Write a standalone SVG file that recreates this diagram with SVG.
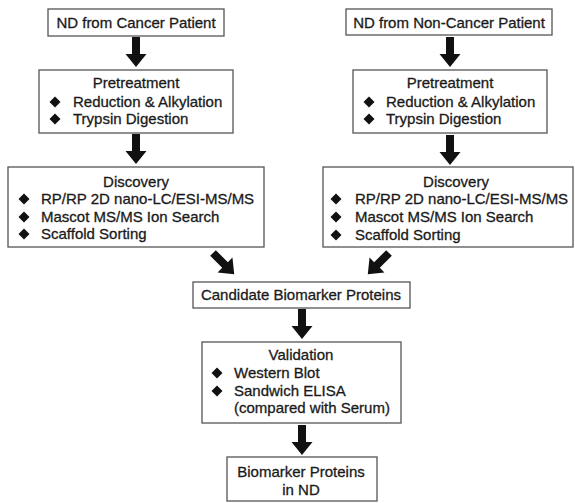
<svg xmlns="http://www.w3.org/2000/svg" width="575" height="503" viewBox="0 0 575 503">
<style>
.box{fill:#fff;stroke:#555;stroke-width:1.3}
text{font-family:"Liberation Sans",Arial,sans-serif;font-size:15px;fill:#1a1a1a;stroke:#1a1a1a;stroke-width:0.3}
.c{text-anchor:middle}
.arr{fill:#111}
.dia{fill:#111}
</style>
<defs>
<path id="arrow" d="M-4,0 H4 V17 H10.5 L0,30 L-10.5,17 H-4 Z"/>
<path id="d" d="M0,-5.5 L5.5,0 L0,5.5 L-5.5,0 Z"/>
</defs>
<rect width="575" height="503" fill="#fff"/>
<g id="connectors" class="arr">
<use href="#arrow" transform="translate(136,37)"/>
<use href="#arrow" transform="translate(136,134)"/>
<use href="#arrow" transform="translate(450,37)"/>
<use href="#arrow" transform="translate(450,135)"/>
<use href="#arrow" transform="translate(213,253) rotate(-45)"/>
<use href="#arrow" transform="translate(389,253) rotate(45)"/>
<use href="#arrow" transform="translate(302,309)"/>
<use href="#arrow" transform="translate(302,425)"/>
</g>
<g id="nd-cancer">
<rect class="box" x="48" y="9" width="176" height="27"/>
<text class="c" x="136" y="28">ND from Cancer Patient</text>
</g>
<g id="nd-noncancer">
<rect class="box" x="346" y="9" width="206" height="26"/>
<text class="c" x="449" y="28">ND from Non-Cancer Patient</text>
</g>
<g id="pretreat-left">
<rect class="box" x="39" y="70" width="194" height="63"/>
<text class="c" x="136" y="88">Pretreatment</text>
<use href="#d" class="dia" x="55" y="102"/>
<text x="73" y="107">Reduction &amp; Alkylation</text>
<use href="#d" class="dia" x="55" y="119"/>
<text x="73" y="124">Trypsin Digestion</text>
</g>
<g id="pretreat-right">
<rect class="box" x="353" y="70" width="194" height="63"/>
<text class="c" x="450" y="88">Pretreatment</text>
<use href="#d" class="dia" x="369" y="102"/>
<text x="386" y="107">Reduction &amp; Alkylation</text>
<use href="#d" class="dia" x="369" y="119"/>
<text x="386" y="124">Trypsin Digestion</text>
</g>
<g id="discovery-left">
<rect class="box" x="8" y="167" width="256" height="80"/>
<text class="c" x="136" y="187">Discovery</text>
<use href="#d" class="dia" x="24" y="199"/>
<text x="41" y="204">RP/RP 2D nano-LC/ESI-MS/MS</text>
<use href="#d" class="dia" x="24" y="217"/>
<text x="41" y="222">Mascot MS/MS Ion Search</text>
<use href="#d" class="dia" x="24" y="234"/>
<text x="41" y="239">Scaffold Sorting</text>
</g>
<g id="discovery-right">
<rect class="box" x="323" y="167" width="250" height="80"/>
<text class="c" x="456" y="187">Discovery</text>
<use href="#d" class="dia" x="336" y="199"/>
<text x="355" y="204">RP/RP 2D nano-LC/ESI-MS/MS</text>
<use href="#d" class="dia" x="336" y="217"/>
<text x="355" y="222">Mascot MS/MS Ion Search</text>
<use href="#d" class="dia" x="336" y="235"/>
<text x="355" y="240">Scaffold Sorting</text>
</g>
<g id="candidate">
<rect class="box" x="193" y="282" width="217" height="26"/>
<text class="c" x="301" y="300">Candidate Biomarker Proteins</text>
</g>
<g id="validation">
<rect class="box" x="202" y="342" width="199" height="81"/>
<text class="c" x="301" y="360">Validation</text>
<use href="#d" class="dia" x="217" y="373"/>
<text x="234" y="378">Western Blot</text>
<use href="#d" class="dia" x="217" y="391"/>
<text x="234" y="396">Sandwich ELISA</text>
<text x="234" y="413">(compared with Serum)</text>
</g>
<g id="biomarker">
<rect class="box" x="227" y="457" width="150" height="44"/>
<text class="c" x="301" y="477">Biomarker Proteins</text>
<text class="c" x="301" y="495">in ND</text>
</g>
</svg>
